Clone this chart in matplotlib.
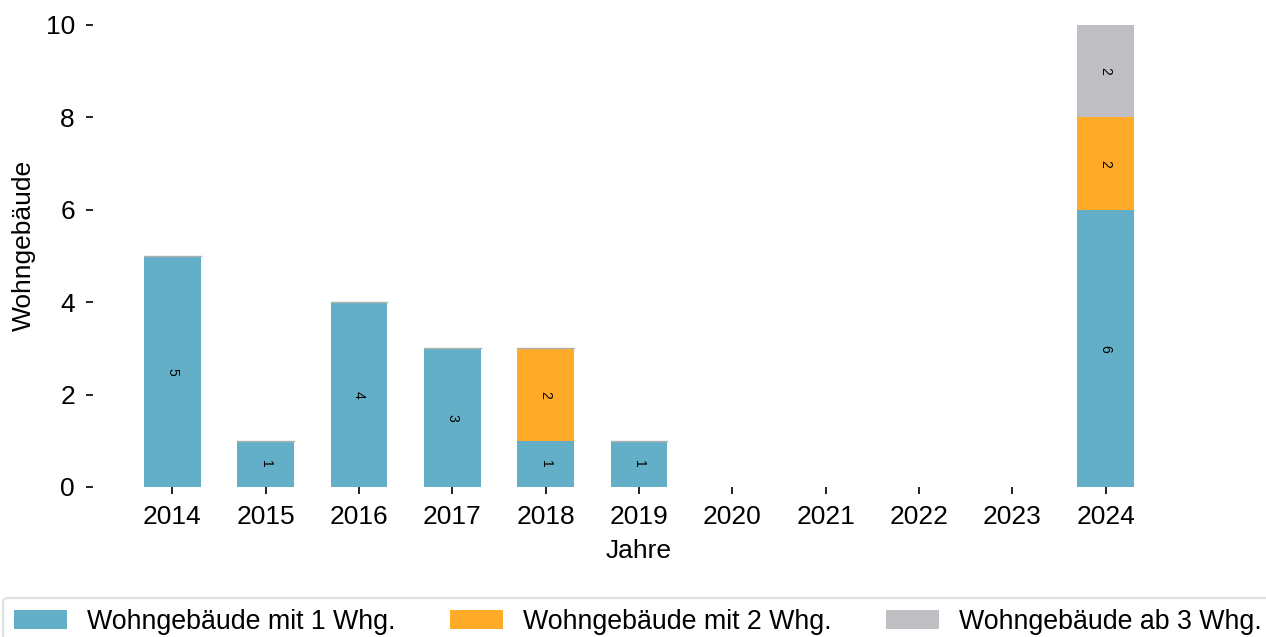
import numpy as np
import matplotlib.pyplot as plt

plt.rcParams["font.family"] = ["Liberation Sans", "DejaVu Sans"]

years = ["2014", "2015", "2016", "2017", "2018", "2019", "2020", "2021", "2022", "2023", "2024"]
mit_1 = [5, 1, 4, 3, 1, 1, 0, 0, 0, 0, 6]
mit_2 = [0, 0, 0, 0, 2, 0, 0, 0, 0, 0, 2]
ab_3 = [0, 0, 0, 0, 0, 0, 0, 0, 0, 0, 2]

series = [
    ("Wohngebäude mit 1 Whg.", mit_1, "#63afc8"),
    ("Wohngebäude mit 2 Whg.", mit_2, "#ffaa29"),
    ("Wohngebäude ab 3 Whg.", ab_3, "#bfbfc3"),
]

fig = plt.figure(figsize=(12.66, 6.37), dpi=100)
ax = fig.add_axes([93 / 1266, 150 / 637, (1185 - 93) / 1266, 462 / 637])

x = np.arange(len(years))
bottom = np.zeros(len(years))
handles = []
for label, vals, color in series:
    vals = np.array(vals, dtype=float)
    bars = ax.bar(x, vals, width=0.61, bottom=bottom, color=color, linewidth=0, label=label)
    handles.append(bars)
    for xi, v, b in zip(x, vals, bottom):
        if v > 0:
            ax.text(xi, b + v / 2, f"{int(v)}", rotation=-90, ha="center", va="center", fontsize=10)
    bottom = bottom + vals

# thin grey cap on top of the stacks
for xi, top in zip(x, bottom):
    if 0 < top < 10:
        ax.plot([xi - 0.305, xi + 0.305], [top, top], color="#b0b0b0", lw=1)

ax.set_xlim(-0.85, 10.85)
ax.set_ylim(0, 10)
ax.set_yticks([0, 2, 4, 6, 8, 10])
ax.set_xticks(x)
ax.set_xticklabels(years)
for s in ax.spines.values():
    s.set_visible(False)
ax.tick_params(axis="both", labelsize=19, length=5, width=1.2, direction="out", pad=8)
ax.set_xlabel("Jahre", fontsize=19, labelpad=7)
ax.set_ylabel("Wohngebäude", fontsize=19)
ax.yaxis.set_label_coords(-0.052, 0.522)

leg = fig.legend(handles=handles, labels=[s[0] for s in series], ncol=3,
                 loc="upper left", bbox_to_anchor=(3 / 1266, 1 - 598 / 637),
                 fontsize=19.3, frameon=True, fancybox=True, edgecolor="#d9d9d9",
                 handlelength=2.0, handleheight=0.72, handletextpad=0.75,
                 columnspacing=2.0, borderpad=0.4, borderaxespad=0)
leg.get_frame().set_linewidth(1.5)

fig.savefig("out.png", dpi=100)
